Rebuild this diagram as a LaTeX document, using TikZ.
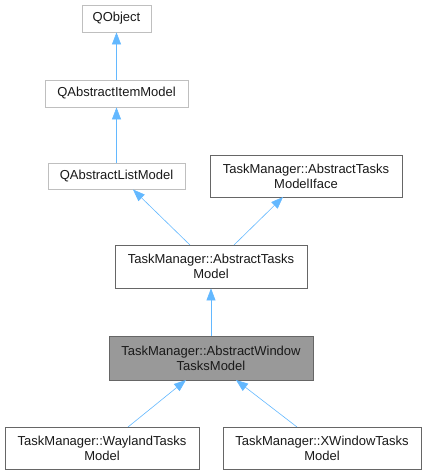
\documentclass[tikz,border=0pt]{standalone}
\usepackage{fontspec}
\setmainfont{Liberation Sans}
\usetikzlibrary{arrows.meta}
\definecolor{edgeblue}{HTML}{63B8FF}
\definecolor{qtgray}{HTML}{BFBFBF}
\definecolor{boxgray}{HTML}{666666}
\definecolor{hlfill}{HTML}{999999}
\tikzset{
  cls/.style={draw=boxgray, line width=0.8pt, fill=white, inner sep=0pt, align=center, font=\fontsize{13}{15}\selectfont, text=black!90},
  qtcls/.style={cls, draw=qtgray},
  hl/.style={cls, fill=hlfill},
  inh/.style={draw=edgeblue, line width=0.6pt, -{Triangle[width=9pt,length=12pt,fill=edgeblue]}}
}
\begin{document}
\begin{tikzpicture}[x=1pt,y=-1pt]
\useasboundingbox (0,0) rectangle (427,475);
\node[qtcls, minimum width=69pt, minimum height=27pt] (qobj) at (116.5,18.5) {QObject};
\node[qtcls, minimum width=143pt, minimum height=27pt] (qaim) at (116.5,93.5) {QAbstractItemModel};
\node[qtcls, minimum width=137pt, minimum height=26pt] (qalm) at (116.5,176) {QAbstractListModel};
\node[cls, minimum width=192pt, minimum height=42pt] (iface) at (306,176) {TaskManager::AbstractTasks\\ModelIface};
\node[cls, minimum width=192pt, minimum height=43pt] (atm) at (211,266.5) {TaskManager::AbstractTasks\\Model};
\node[hl, minimum width=204pt, minimum height=44pt] (awtm) at (211,358) {TaskManager::AbstractWindow\\TasksModel};
\node[cls, minimum width=194pt, minimum height=42pt] (wl) at (102,448) {TaskManager::WaylandTasks\\Model};
\node[cls, minimum width=198pt, minimum height=42pt] (xw) at (322,448) {TaskManager::XWindowTasks\\Model};
\draw[inh] (qaim.north) -- (qobj.south);
\draw[inh] (qalm.north) -- (qaim.south);
\coordinate (a1) at (190,245);
\coordinate (a2) at (234,245);
\coordinate (t1) at (133,189.5);
\coordinate (t2) at (283,197);
\draw[inh] (a1) -- (t1);
\draw[inh] (a2) -- (t2);
\draw[inh] (awtm.north) -- (atm.south);
\coordinate (w1) at (128,427);
\coordinate (w2) at (186,380);
\coordinate (x1) at (297,427);
\coordinate (x2) at (236,380);
\draw[inh] (w1) -- (w2);
\draw[inh] (x1) -- (x2);
\end{tikzpicture}
\end{document}
